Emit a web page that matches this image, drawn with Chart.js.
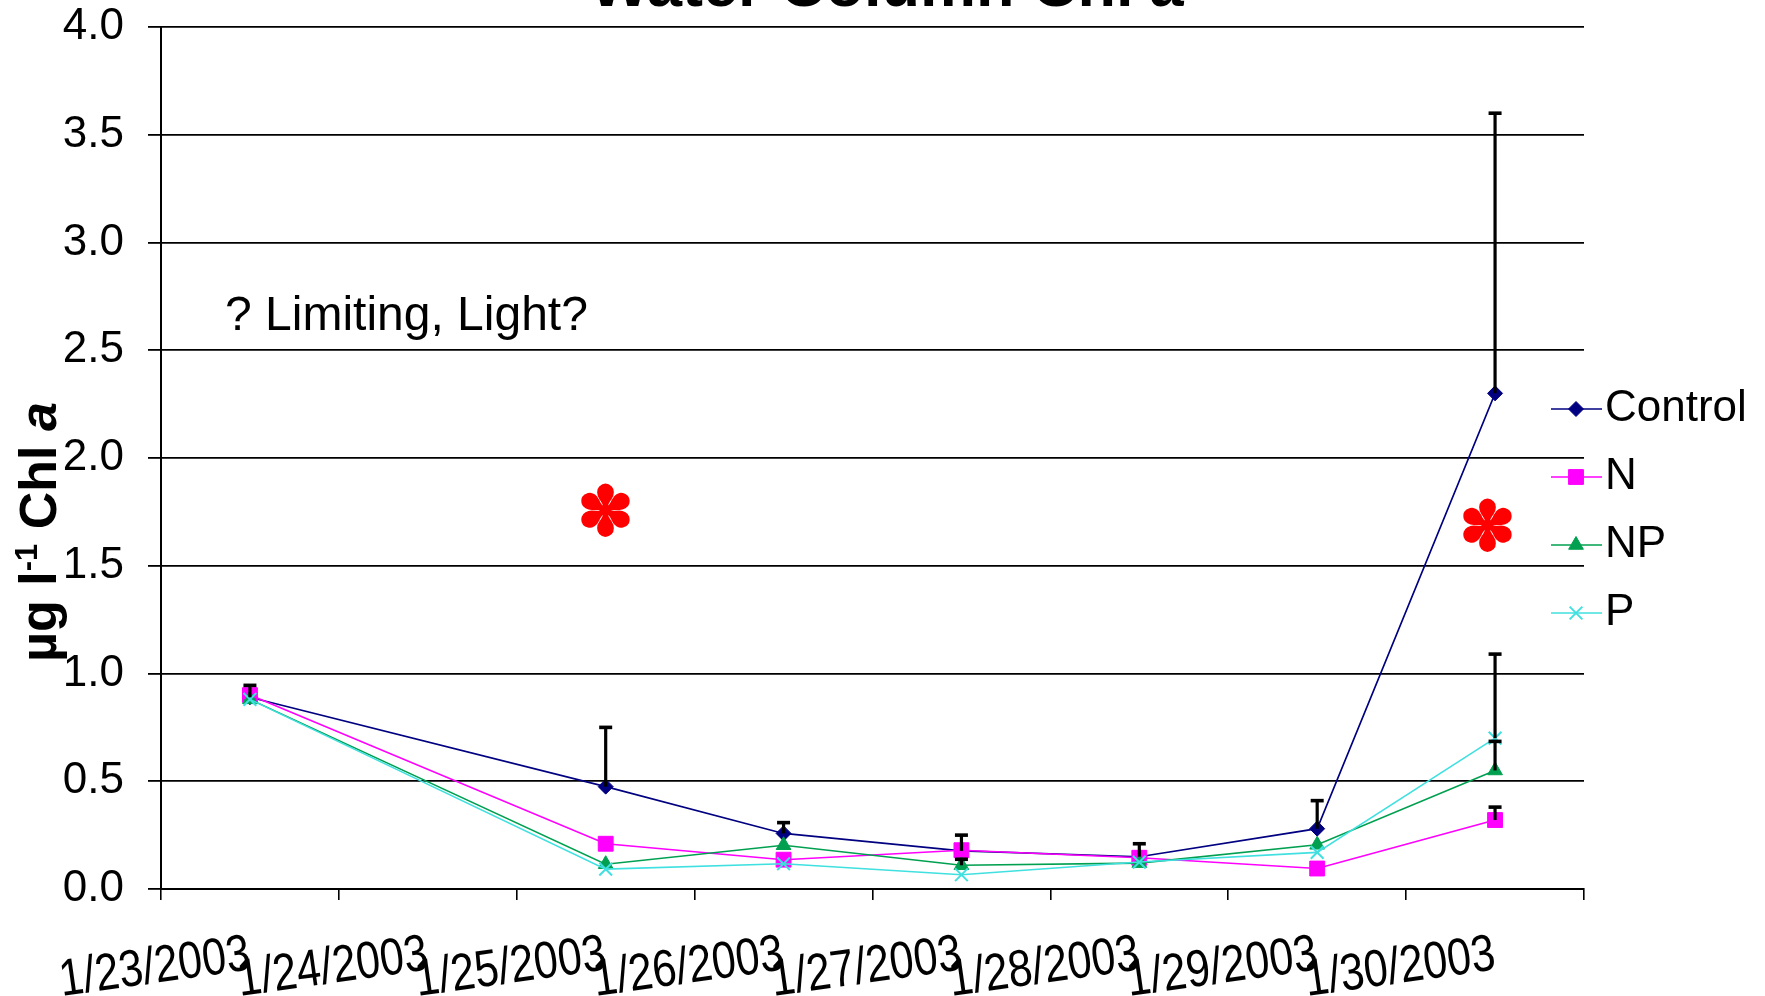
<!DOCTYPE html>
<html>
<head>
<meta charset="utf-8">
<title>Water Column Chl a</title>
<script src="https://cdn.jsdelivr.net/npm/chart.js@4.4.1/dist/chart.umd.min.js"></script>
<style>
  html, body { margin: 0; padding: 0; background: #ffffff; overflow: hidden; }
  canvas { display: block; }
</style>
</head>
<body>
<canvas id="chl" width="1765" height="996"></canvas>
<script>
// Sampling dates (1/24 has no sample)
const categories = ['1/23/2003', '1/24/2003', '1/25/2003', '1/26/2003',
                    '1/27/2003', '1/28/2003', '1/29/2003', '1/30/2003'];

// Mean water-column chlorophyll a (µg/l) per treatment
const controlMean = [0.89, null, 0.475, 0.258, 0.177, 0.150, 0.280, 2.30];
const nMean       = [0.90, null, 0.210, 0.136, 0.180, 0.145, 0.095, 0.32];
const npMean      = [0.88, null, 0.115, 0.203, 0.110, 0.120, 0.205, 0.55];
const pMean       = [0.88, null, 0.092, 0.117, 0.066, 0.125, 0.170, 0.70];

// Upper error (SD) per treatment
const controlErr = [0.055, null, 0.275, 0.050, 0.073, 0.060, 0.130, 1.30];
const nErr       = [null, null, null, null, null, null, null, 0.06];
const npErr      = [null, null, null, null, 0.028, null, null, 0.135];
const pErr       = [null, null, null, null, null, null, null, 0.39];

// Y axis tick labels
const yTickLabels = ['0.0', '0.5', '1.0', '1.5', '2.0', '2.5', '3.0', '3.5', '4.0'];

// Dates flagged as significant
const flaggedDates = ['1/25/2003', '1/30/2003'];
const flaggedLevels = [1.73, 1.66];

const FONT = "'Liberation Sans', Arial, Helvetica, sans-serif";

const seriesStyle = [
  { label: 'Control', color: '#000080', pointStyle: 'rectRot',  radius: 7.5,  order: 4 },
  { label: 'N',       color: '#FF00FF', pointStyle: 'rect',     radius: 10.5, order: 3 },
  { label: 'NP',      color: '#00A050', pointStyle: 'triangle', radius: 8.5,  order: 2 },
  { label: 'P',       color: '#40E0E0', pointStyle: 'crossRot', radius: 9,    order: 1 }
];
const seriesData = [controlMean, nMean, npMean, pMean];
const seriesErr  = [controlErr, nErr, npErr, pErr];

const datasets = seriesStyle.map((s, i) => ({
  label: s.label,
  data: seriesData[i],
  errorBars: seriesErr[i],
  borderColor: s.color,
  backgroundColor: s.color,
  pointBackgroundColor: s.color,
  pointBorderColor: s.color,
  pointStyle: s.pointStyle,
  pointRadius: s.radius,
  pointBorderWidth: s.pointStyle === 'crossRot' ? 2 : 1,
  borderWidth: 1.6,
  tension: 0,
  spanGaps: true,
  order: s.order
}));

// Vertical upper error bars with caps
const errorBarPlugin = {
  id: 'errorBars',
  afterDatasetsDraw(chart) {
    const ctx = chart.ctx;
    const y = chart.scales.y;
    ctx.save();
    ctx.strokeStyle = '#000000';
    chart.data.datasets.forEach((ds, i) => {
      const meta = chart.getDatasetMeta(i);
      (ds.errorBars || []).forEach((e, j) => {
        const v = ds.data[j];
        if (e == null || v == null) return;
        const px = meta.data[j].x;
        const y0 = y.getPixelForValue(v);
        const y1 = y.getPixelForValue(v + e);
        ctx.lineWidth = 3.2;
        ctx.beginPath();
        ctx.moveTo(px, y0);
        ctx.lineTo(px, y1);
        ctx.stroke();
        ctx.lineWidth = 3.6;
        ctx.beginPath();
        ctx.moveTo(px - 6.5, y1);
        ctx.lineTo(px + 6.5, y1);
        ctx.stroke();
      });
    });
    ctx.restore();
  }
};

// Slanted, slightly condensed date labels under each category
const dateLabelPlugin = {
  id: 'dateLabels',
  afterDraw(chart) {
    const ctx = chart.ctx;
    const xs = chart.scales.x;
    ctx.save();
    ctx.fillStyle = '#000';
    ctx.font = '52px ' + FONT;
    ctx.textAlign = 'right';
    ctx.textBaseline = 'middle';
    xs.ticks.forEach((t, i) => {
      const label = xs.getLabelForValue(t.value);
      ctx.setTransform(1, 0, 0, 1, 0, 0);
      ctx.translate(xs.getPixelForTick(i), xs.top + 66);
      ctx.rotate(-8 * Math.PI / 180);
      ctx.scale(0.83, 1);
      ctx.fillText(label, 0, 0);
    });
    ctx.restore();
  }
};

// Title, axis title, note, significance marks and legend
const decorPlugin = {
  id: 'decor',
  afterDraw(chart) {
    const ctx = chart.ctx;
    const xs = chart.scales.x, ys = chart.scales.y;
    ctx.save();

    // Chart title (bold, italic "a")
    const tMain = 'Water Column Chl ';
    const tA = 'a';
    const fMain = 'bold 63px ' + FONT;
    const fA = 'italic bold 63px ' + FONT;
    ctx.font = fMain; const w1 = ctx.measureText(tMain).width;
    ctx.font = fA;    const w2 = ctx.measureText(tA).width;
    const tx = 888 - (w1 + w2) / 2;
    ctx.fillStyle = '#000';
    ctx.textBaseline = 'alphabetic';
    ctx.textAlign = 'left';
    ctx.font = fMain; ctx.fillText(tMain, tx, 6);
    ctx.font = fA;    ctx.fillText(tA, tx + w1, 6);

    // Y axis title: µg l^-1 Chl a
    const parts = [
      { t: 'µg l', f: 'bold 52px ' + FONT, dy: 0 },
      { t: '-1', f: 'bold 31px ' + FONT, dy: -19 },
      { t: ' Chl ', f: 'bold 52px ' + FONT, dy: 0 },
      { t: 'a', f: 'italic bold 52px ' + FONT, dy: 0 }
    ];
    let total = 0;
    parts.forEach(p => { ctx.font = p.f; p.w = ctx.measureText(p.t).width; total += p.w; });
    ctx.translate(56, 532);
    ctx.rotate(-Math.PI / 2);
    let px = -total / 2;
    parts.forEach(p => {
      ctx.font = p.f;
      ctx.fillText(p.t, px, p.dy);
      px += p.w;
    });
    ctx.setTransform(1, 0, 0, 1, 0, 0);

    // Note
    ctx.font = '48px ' + FONT;
    ctx.textBaseline = 'middle';
    ctx.fillText('? Limiting, Light?', 225, 317);

    // Significance marks
    ctx.fillStyle = '#FF0000';
    ctx.font = 'bold 68px ' + FONT;
    ctx.textAlign = 'center';
    flaggedDates.forEach((d, i) => {
      const cx = xs.getPixelForValue(categories.indexOf(d)) - (i === 1 ? 8 : 0);
      const cy = ys.getPixelForValue(flaggedLevels[i]);
      ctx.fillText('✽', cx, cy);
    });

    // Legend
    const draw = Chart.helpers && Chart.helpers.drawPoint;
    ctx.textAlign = 'left';
    ctx.textBaseline = 'middle';
    chart.data.datasets.forEach((ds, i) => {
      const ly = 409 + i * 68;
      ctx.strokeStyle = ds.borderColor;
      ctx.fillStyle = ds.borderColor;
      ctx.lineWidth = 1.6;
      ctx.beginPath();
      ctx.moveTo(1551, ly);
      ctx.lineTo(1602, ly);
      ctx.stroke();
      if (draw) {
        ctx.lineWidth = ds.pointBorderWidth;
        draw(ctx, { pointStyle: ds.pointStyle, radius: ds.pointRadius, borderWidth: ds.pointBorderWidth, rotation: 0 }, 1576, ly);
      }
      ctx.fillStyle = '#000';
      ctx.font = '44px ' + FONT;
      ctx.fillText(ds.label, 1605, ly);
    });
    ctx.restore();
  }
};

new Chart(document.getElementById('chl'), {
  type: 'line',
  data: { labels: categories, datasets },
  plugins: [errorBarPlugin, dateLabelPlugin, decorPlugin],
  options: {
    responsive: false,
    animation: false,
    devicePixelRatio: 1,
    layout: { padding: { top: 27, right: 181, left: 0, bottom: 0 } },
    plugins: {
      legend: { display: false },
      title: { display: false },
      tooltip: { enabled: false }
    },
    scales: {
      x: {
        type: 'category',
        offset: true,
        afterFit(scale) { scale.height = 107; },
        grid: { offset: true, drawOnChartArea: false, drawTicks: true, tickLength: 11, color: '#000', lineWidth: 1.6 },
        border: { display: true, color: '#000', width: 2 },
        ticks: { display: false, autoSkip: false }
      },
      y: {
        min: 0, max: 4,
        afterFit(scale) { scale.width = 161; },
        grid: { color: '#000', lineWidth: 1.8, drawTicks: true, tickLength: 13 },
        border: { display: true, color: '#000', width: 2 },
        ticks: {
          stepSize: 0.5,
          color: '#000',
          font: { size: 44, family: FONT, lineHeight: 0.1 },
          padding: 24,
          callback: (v) => yTickLabels[Math.round(v / 0.5)]
        }
      }
    }
  }
});
</script>
</body>
</html>
